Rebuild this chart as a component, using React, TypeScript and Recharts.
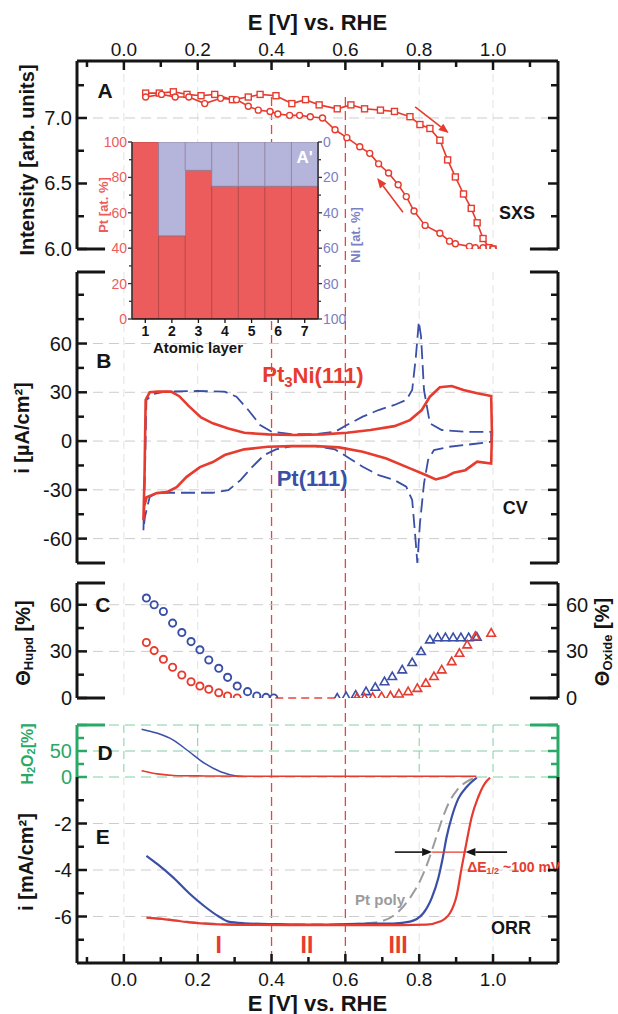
import React from 'react';
import {
  ComposedChart, BarChart, Bar, Line, Scatter, XAxis, YAxis, CartesianGrid,
  ReferenceLine, ReferenceDot,
} from 'recharts';

const FONT = '"Liberation Sans", Arial, Helvetica, sans-serif';
const INK = '#151515';
const RED = '#e63b2e';
const BLUE = '#3a4fa6';
const GRAY = '#9b9b9b';
const GREEN = '#2aa866';
const PINK = '#ec5c5c';
const LAVENDER = '#b5b5db';
const NI_BLUE = '#7b80c4';

const W = 618;

// potential axis shared by every panel
const E_DOMAIN: [number, number] = [-0.127, 1.176];
const eTicks = [-0.1, 0, 0.1, 0.2, 0.3, 0.4, 0.5, 0.6, 0.7, 0.8, 0.9, 1.0, 1.1];
const eLabels = [0, 0.2, 0.4, 0.6, 0.8, 1.0];
const regionBounds = [0.4, 0.6];
const gridE = eLabels.filter((e) => !regionBounds.includes(e));
const BRACKET = 0.076;

// A: SXS intensity, positive sweep (squares) and negative sweep (circles)
const sxsUp: [number, number][] = [
  [0.059, 7.19], [0.096, 7.19], [0.134, 7.2], [0.171, 7.18], [0.209, 7.17], [0.246, 7.18],
  [0.294, 7.14], [0.337, 7.16], [0.369, 7.18], [0.412, 7.17], [0.455, 7.11], [0.492, 7.14],
  [0.529, 7.1], [0.578, 7.07], [0.615, 7.1], [0.652, 7.07], [0.695, 7.06], [0.733, 7.05],
  [0.775, 7.01], [0.802, 6.95], [0.829, 6.92], [0.856, 6.83], [0.877, 6.68], [0.898, 6.55],
  [0.92, 6.42], [0.941, 6.31], [0.957, 6.2], [0.973, 6.08], [0.989, 6.01], [1.0, 6.0],
];
const sxsDown: [number, number][] = [
  [1.0, 6.0], [0.973, 6.01], [0.952, 6.01], [0.936, 6.02], [0.898, 6.04], [0.882, 6.06],
  [0.856, 6.12], [0.816, 6.18], [0.786, 6.29], [0.765, 6.4], [0.743, 6.49], [0.717, 6.58],
  [0.69, 6.65], [0.666, 6.73], [0.639, 6.78], [0.604, 6.85], [0.572, 6.91], [0.538, 7.0],
  [0.505, 7.01], [0.476, 7.02], [0.449, 7.02], [0.417, 7.03], [0.396, 7.05], [0.364, 7.06],
  [0.337, 7.09], [0.305, 7.14], [0.262, 7.15], [0.219, 7.11], [0.176, 7.16], [0.139, 7.16],
  [0.102, 7.18], [0.059, 7.16],
];

// B: cyclic voltammograms (closed loops)
const cvPt3Ni: [number, number][] = [
  [0.053, -48.7], [0.056, -20], [0.059, 25.3], [0.07, 30.0], [0.091, 30.4], [0.128, 30.4],
  [0.15, 27.6], [0.176, 21.5], [0.209, 14.5], [0.241, 10.9], [0.283, 7.8], [0.326, 5.1],
  [0.39, 4.1], [0.465, 3.7], [0.54, 4.1], [0.604, 5.1], [0.668, 6.8], [0.733, 9.2],
  [0.775, 12.9], [0.807, 19.1], [0.829, 27.3], [0.856, 33.1], [0.888, 33.9], [0.92, 31.4],
  [0.957, 29.4], [0.995, 27.7], [0.997, 5], [0.995, -13.8], [0.957, -12.7], [0.925, -17.9],
  [0.893, -19.5], [0.872, -22.0], [0.845, -23.6], [0.818, -20.9], [0.775, -16.8], [0.711, -10.7],
  [0.647, -6.6], [0.583, -3.9], [0.519, -3.1], [0.455, -3.1], [0.39, -3.5], [0.326, -5.1],
  [0.273, -8.6], [0.241, -12.9], [0.206, -16], [0.17, -22], [0.143, -28.3], [0.116, -31.4],
  [0.089, -32], [0.062, -34.5], [0.055, -40], [0.053, -48.7],
];
const cvPt111: [number, number][] = [
  [0.053, -54.8], [0.057, -20], [0.061, 25.3], [0.08, 28.9], [0.112, 30.4], [0.198, 30.8],
  [0.273, 30.4], [0.305, 27.3], [0.337, 19.1], [0.369, 9.9], [0.401, 5.7], [0.455, 4.3],
  [0.519, 4.3], [0.572, 5.7], [0.604, 9.9], [0.647, 15.0], [0.69, 19.1], [0.733, 22.2],
  [0.765, 25.3], [0.781, 31.4], [0.791, 51.9], [0.799, 73.5], [0.805, 64.3], [0.813, 31.4],
  [0.829, 10.9], [0.861, 6.8], [0.925, 5.7], [0.995, 5.7], [0.995, -0.4], [0.947, -1.8],
  [0.882, -3.5], [0.84, -5.5], [0.824, -11.7], [0.813, -26.1], [0.802, -50.7], [0.795, -75],
  [0.788, -54.8], [0.781, -36.3], [0.765, -28.1], [0.733, -24.0], [0.69, -20.9], [0.647, -15.8],
  [0.604, -9.6], [0.572, -5.1], [0.519, -3.1], [0.455, -3.1], [0.412, -5.1], [0.38, -8.6],
  [0.348, -15.8], [0.316, -24.0], [0.283, -30.2], [0.241, -31.8], [0.155, -31.8], [0.091, -31.8],
  [0.07, -34.3], [0.057, -46.6], [0.053, -54.8],
];

// C: coverages
const hupdPt111: [number, number][] = [
  [0.061, 64.3], [0.082, 60], [0.107, 55.7], [0.132, 48.2], [0.157, 42.1], [0.182, 36.3],
  [0.206, 31], [0.23, 24.5], [0.257, 19.1], [0.281, 13.3], [0.307, 7.7], [0.335, 4.1],
  [0.36, 1.3], [0.385, 0.4], [0.406, 0],
];
const hupdPt3Ni: [number, number][] = [
  [0.061, 35.7], [0.082, 30.5], [0.107, 24.9], [0.132, 19.8], [0.157, 14.8], [0.182, 10.5],
  [0.206, 7.7], [0.23, 5.6], [0.257, 3.4], [0.281, 1.3], [0.307, 0],
];
const oxidePt111: [number, number][] = [
  [0.578, 0], [0.602, 0.9], [0.628, 1.9], [0.656, 4.1], [0.681, 6.9], [0.706, 10.5],
  [0.727, 13.8], [0.754, 18.1], [0.781, 22.8], [0.805, 29.9], [0.829, 37.4], [0.85, 38.8],
  [0.871, 38.8], [0.892, 38.8], [0.913, 38.8], [0.934, 38.8], [0.956, 39.2],
];
const oxidePt3Ni: [number, number][] = [
  [0.631, 0], [0.652, 0], [0.674, 0.4], [0.698, 0.9], [0.722, 1.3], [0.745, 2.6],
  [0.77, 4.1], [0.795, 6.2], [0.818, 9.5], [0.84, 13.8], [0.861, 18.1], [0.888, 23.4],
  [0.909, 28.8], [0.93, 34.2], [0.952, 39.6], [0.995, 41.7],
];

// D: H2O2 yield
const h2o2Pt111: [number, number][] = [
  [0.048, 92], [0.091, 84], [0.134, 71], [0.176, 49], [0.219, 26], [0.262, 10],
  [0.305, 2], [0.348, 0], [0.95, 0],
];
const h2o2Pt3Ni: [number, number][] = [
  [0.048, 12], [0.091, 6], [0.134, 3], [0.22, 2], [0.4, 1.2], [0.7, 1.2], [0.955, 1.2],
];

// E: ORR polarisation curves
const orrPt3Ni: [number, number][] = [
  [0.061, -6.05], [0.112, -6.12], [0.176, -6.25], [0.241, -6.33], [0.305, -6.36], [0.45, -6.37],
  [0.6, -6.37], [0.75, -6.37], [0.82, -6.35], [0.856, -6.22], [0.883, -5.86], [0.902, -5.06],
  [0.915, -3.9], [0.929, -2.74], [0.942, -1.73], [0.96, -0.86], [0.978, -0.27], [0.992, -0.03],
];
const orrPt111: [number, number][] = [
  [0.061, -3.39], [0.091, -3.75], [0.134, -4.33], [0.176, -4.99], [0.219, -5.57], [0.257, -6.0],
  [0.283, -6.22], [0.326, -6.29], [0.412, -6.33], [0.519, -6.35], [0.604, -6.33], [0.668, -6.31],
  [0.73, -6.3], [0.775, -6.22], [0.811, -5.86], [0.834, -5.2], [0.852, -4.33], [0.864, -3.46],
  [0.874, -2.6], [0.888, -1.73], [0.906, -0.93], [0.929, -0.42], [0.956, -0.03],
];
const orrPtPoly: [number, number][] = [
  [0.07, -6.05], [0.12, -6.13], [0.2, -6.27], [0.3, -6.33], [0.45, -6.35], [0.6, -6.33],
  [0.65, -6.3], [0.694, -6.22], [0.739, -5.86], [0.775, -5.2], [0.802, -4.48], [0.825, -3.6],
  [0.843, -2.74], [0.861, -1.88], [0.879, -1.15], [0.902, -0.57], [0.929, -0.2], [0.951, -0.03],
];

// inset A': composition per atomic layer
const layers = [1, 2, 3, 4, 5, 6, 7];
const ptPercent = [100, 47, 84, 75, 75, 75, 75];
const niPercent = [0, 53, 16, 25, 25, 25, 25];

const pts = (rows: [number, number][]) => rows.map(([e, v]) => ({ e, v }));
const near = (list: number[] | undefined, v: number) => !!list && list.some((m) => Math.abs(m - v) < 1e-6);

type TickCfg = {
  side: 'left' | 'right' | 'top' | 'bottom';
  labels?: number[];
  majors?: number[];
  color?: string;
  labelColor?: string;
  fontSize?: number;
  digits?: number;
  major?: number;
  minor?: number;
  out?: boolean;
  width?: number;
  gap?: number;
};

function frameTick(c: TickCfg) {
  return (p: any) => {
    const v = p.payload.value;
    const big = c.majors ? near(c.majors, v) : true;
    const len = big ? c.major ?? 10 : c.minor ?? 7;
    const { x, y } = p;
    const color = c.color ?? INK;
    const txt = near(c.labels, v) ? (c.digits !== undefined ? v.toFixed(c.digits) : String(v)) : null;
    const gap = (c.gap ?? 5) + (c.out ? len : 0);
    const dir = c.out ? -1 : 1;
    const t = { fill: c.labelColor ?? color, fontSize: c.fontSize ?? 20, fontFamily: FONT };
    let line: React.ReactNode = null;
    let label: React.ReactNode = null;
    if (c.side === 'left') {
      line = <line x1={x} y1={y} x2={x + dir * len} y2={y} />;
      if (txt) label = <text x={x - gap} y={y} textAnchor="end" dominantBaseline="central" {...t}>{txt}</text>;
    } else if (c.side === 'right') {
      line = <line x1={x} y1={y} x2={x - dir * len} y2={y} />;
      if (txt) label = <text x={x + gap} y={y} textAnchor="start" dominantBaseline="central" {...t}>{txt}</text>;
    } else if (c.side === 'top') {
      line = <line x1={x} y1={y} x2={x} y2={y + dir * len} />;
      if (txt) label = <text x={x} y={y - gap} textAnchor="middle" dominantBaseline="central" {...t}>{txt}</text>;
    } else {
      line = <line x1={x} y1={y} x2={x} y2={y - dir * len} />;
      if (txt) label = <text x={x} y={y + gap} textAnchor="middle" dominantBaseline="central" {...t}>{txt}</text>;
    }
    return (
      <g>
        <g stroke={color} strokeWidth={c.width ?? 2.5}>{line}</g>
        {label}
      </g>
    );
  };
}

const vTitle = (x: number, y: number, body: React.ReactNode, color = INK, size = 20) => () => (
  <text transform={`translate(${x},${y}) rotate(-90)`} textAnchor="middle" dominantBaseline="central"
    fill={color} fontSize={size} fontWeight="bold" fontFamily={FONT}>{body}</text>
);

type NoteOpts = { color?: string; size?: number; weight?: string | number; anchor?: string; yAxisId?: any };
const note = (key: string, x: number, y: number, body: React.ReactNode, o: NoteOpts = {}) => (
  <ReferenceDot key={key} x={x} y={y} r={1} fill="none" stroke="none" yAxisId={o.yAxisId ?? 0} ifOverflow="visible"
    label={(p: any) => {
      const vb = p.viewBox;
      return (
        <text x={vb.x + vb.width / 2} y={vb.y + vb.height / 2} textAnchor={o.anchor ?? 'middle'} dominantBaseline="central"
          fill={o.color ?? INK} fontSize={o.size ?? 18} fontWeight={o.weight ?? 'bold'} fontFamily={FONT}>{body}</text>
      );
    }} />
);

const arrowShape = (color: string) => (p: any) => {
  const { x1, y1, x2, y2 } = p;
  const a = Math.atan2(y2 - y1, x2 - x1);
  const L = 10, H = 4;
  const bx = x2 - L * Math.cos(a), by = y2 - L * Math.sin(a);
  const head = `${x2},${y2} ${bx - H * Math.sin(a)},${by + H * Math.cos(a)} ${bx + H * Math.sin(a)},${by - H * Math.cos(a)}`;
  return (
    <g>
      <line x1={x1} y1={y1} x2={bx} y2={by} stroke={color} strokeWidth={1.6} />
      <polygon points={head} fill={color} />
    </g>
  );
};

const dashedShape = (color: string, width = 1.3, dash = '9 5') => (p: any) => (
  <line x1={p.x1} y1={p.y1} x2={p.x2} y2={p.y2} stroke={color} strokeWidth={width} strokeDasharray={dash} />
);

const brackets = (y: number, color = INK) => [
  <ReferenceLine key={`bl${y}`} segment={[{ x: E_DOMAIN[0], y }, { x: E_DOMAIN[0] + BRACKET, y }]} stroke={color} strokeWidth={3} ifOverflow="visible" />,
  <ReferenceLine key={`br${y}`} segment={[{ x: E_DOMAIN[1] - BRACKET, y }, { x: E_DOMAIN[1], y }]} stroke={color} strokeWidth={3} ifOverflow="visible" />,
];

const frameLine = { stroke: INK, strokeWidth: 3 };
const noMargin = { top: 0, right: 0, bottom: 0, left: 0 };

const hiddenX = <XAxis type="number" dataKey="e" domain={E_DOMAIN} allowDataOverflow hide />;

function yAxes(domain: [number, number], ticks: number[], majors: number[], labels: number[], opts: {
  color?: string; rightLabels?: boolean; title?: any; rightTitle?: any; digits?: number;
} = {}) {
  const color = opts.color ?? INK;
  return [
    <YAxis key="yl" yAxisId={0} type="number" dataKey="v" domain={domain} allowDataOverflow width={77} ticks={ticks}
      interval={0} tickLine={false} tickSize={0} tickMargin={0} axisLine={{ stroke: color, strokeWidth: 3 }}
      tick={frameTick({ side: 'left', labels, majors, color, digits: opts.digits })} label={opts.title} />,
    <YAxis key="yr" yAxisId="r" orientation="right" type="number" domain={domain} allowDataOverflow width={60} ticks={ticks}
      interval={0} tickLine={false} tickSize={0} tickMargin={0} axisLine={{ stroke: color, strokeWidth: 3 }}
      tick={frameTick({ side: 'right', labels: opts.rightLabels ? labels : [], majors, color, gap: 8 })} label={opts.rightTitle} />,
  ];
}

const vGrid = (color = '#e2e2e2') => (
  <CartesianGrid horizontal={false} verticalValues={gridE} stroke={color} strokeDasharray="8 5" />
);
const hGrid = (values: number[], color = '#cdcdcd') => (
  <CartesianGrid vertical={false} horizontalValues={values} stroke={color} strokeDasharray="10 6" />
);

function Box({ top, left = 0, w = W, h, children }: { top: number; left?: number; w?: number; h: number; children: React.ReactNode }) {
  return <div style={{ position: 'absolute', left, top, width: w, height: h }}>{children}</div>;
}

const square = (color: string) => (p: any) => (
  <rect key={`s${p.index}`} x={p.cx - 3} y={p.cy - 3} width={6} height={6} fill="#fff" stroke={color} strokeWidth={1.4} />
);
const ring = (color: string, r = 3) => (p: any) => (
  <circle key={`c${p.index}`} cx={p.cx} cy={p.cy} r={r} fill="#fff" stroke={color} strokeWidth={1.4} />
);
const openCircle = (color: string) => (p: any) => (
  <circle cx={p.cx} cy={p.cy} r={3.6} fill="none" stroke={color} strokeWidth={1.9} />
);
const openTriangle = (color: string) => (p: any) => (
  <polygon points={`${p.cx},${p.cy - 4.5} ${p.cx - 4.3},${p.cy + 3} ${p.cx + 4.3},${p.cy + 3}`} fill="none" stroke={color} strokeWidth={1.6} />
);

export default function App() {
  const insetData = layers.map((layer, i) => ({ layer, pt: ptPercent[i], ni: niPercent[i] }));
  const sub = (s: string, size = 13, dy = 5) => <tspan dy={dy} fontSize={size}>{s}</tspan>;

  return (
    <div style={{ position: 'absolute', left: 0, top: 0, width: W, height: 1014, background: '#fff', fontFamily: FONT }}>
      <style>{'.recharts-surface{overflow:visible}'}</style>

      {/* dashed region boundaries running through all panels */}
      <Box top={0} h={1014}>
        <ComposedChart width={W} height={1014} data={regionBounds.map((e) => ({ e, v: 0 }))} margin={{ top: 61, right: 60, bottom: 51, left: 77 }}>
          <XAxis type="number" dataKey="e" domain={E_DOMAIN} allowDataOverflow hide />
          <YAxis type="number" domain={[0, 1]} allowDataOverflow hide />
          {regionBounds.map((e) => (
            <ReferenceLine key={e} segment={[{ x: e, y: 0.96 }, { x: e, y: 0 }]} shape={dashedShape('#e8453c')} />
          ))}
        </ComposedChart>
      </Box>

      {/* A: SXS */}
      <Box top={0} h={249}>
        <ComposedChart width={W} height={249} margin={noMargin}>
          {vGrid()}
          {hGrid([7.0])}
          <XAxis type="number" dataKey="e" orientation="top" domain={E_DOMAIN} allowDataOverflow height={61} ticks={eTicks}
            interval={0} tickLine={false} tickSize={0} tickMargin={0} axisLine={frameLine}
            tick={frameTick({ side: 'top', labels: eLabels, majors: eLabels, digits: 1, fontSize: 19, major: 9, minor: 6, gap: 12 })}
            label={{ value: 'E [V] vs. RHE', position: 'insideTop', offset: 14, fontSize: 22, fontWeight: 'bold', fill: INK, fontFamily: FONT }} />
          {yAxes([6.0, 7.435], [6.0, 6.25, 6.5, 6.75, 7.0, 7.25], [6.0, 6.5, 7.0], [6.0, 6.5, 7.0], {
            digits: 1, title: vTitle(27, 160, 'Intensity [arb. units]'),
          })}
          {brackets(6.0)}
          <Line data={pts(sxsUp)} dataKey="v" stroke={RED} strokeWidth={1.6} dot={square(RED)} isAnimationActive={false} />
          <Line data={pts(sxsDown)} dataKey="v" stroke={RED} strokeWidth={1.6} dot={ring(RED)} isAnimationActive={false} />
          <ReferenceLine segment={[{ x: 0.789, y: 7.084 }, { x: 0.88, y: 6.885 }]} shape={arrowShape(RED)} ifOverflow="visible" />
          <ReferenceLine segment={[{ x: 0.756, y: 6.28 }, { x: 0.686, y: 6.542 }]} shape={arrowShape(RED)} ifOverflow="visible" />
          {note('A', -0.051, 7.21, 'A', { size: 21 })}
          {note('sxs', 1.065, 6.275, 'SXS', { size: 18 })}
        </ComposedChart>
      </Box>

      {/* B: CV */}
      <Box top={272} h={291}>
        <ComposedChart width={W} height={291} margin={noMargin}>
          {vGrid()}
          {hGrid([-60, -30, 0, 30, 60])}
          {hiddenX}
          {yAxes([-75, 104], [-60, -45, -30, -15, 0, 15, 30, 45, 60, 75, 90], [-60, -30, 0, 30, 60], [-60, -30, 0, 30, 60], {
            title: vTitle(22, 156, 'i [µA/cm²]'),
          })}
          {brackets(104)}
          {brackets(-75)}
          <Line data={pts(cvPt111)} dataKey="v" type="linear" stroke={BLUE} strokeWidth={1.8} strokeDasharray="14 6" dot={false} isAnimationActive={false} />
          <Line data={pts(cvPt3Ni)} dataKey="v" type="linear" stroke={RED} strokeWidth={2.6} dot={false} isAnimationActive={false} />
          {note('B', -0.054, 49.3, 'B', { size: 21 })}
          {note('pt3ni', 0.512, 40.7, <>{'Pt'}{sub('3', 15, 6)}<tspan dy={-6}>Ni(111)</tspan></>, { color: RED, size: 22 })}
          {note('pt111', 0.51, -22.8, 'Pt(111)', { color: BLUE, size: 22 })}
          {note('cv', 1.06, -41.3, 'CV', { size: 18 })}
        </ComposedChart>
      </Box>

      {/* C: coverages */}
      <Box top={583} h={115}>
        <ComposedChart width={W} height={115} margin={noMargin}>
          {vGrid()}
          {hGrid([30, 60])}
          {hiddenX}
          {yAxes([0, 74], [0, 15, 30, 45, 60], [0, 30, 60], [0, 30, 60], {
            rightLabels: true,
            title: vTitle(23, 60, <><tspan>Θ</tspan>{sub('Hupd', 13, 5)}<tspan dy={-5}> [%]</tspan></>),
            rightTitle: vTitle(602, 59, <><tspan>Θ</tspan>{sub('Oxide', 13, 5)}<tspan dy={-5}> [%]</tspan></>),
          })}
          {brackets(74)}
          {brackets(0)}
          <ReferenceLine segment={[{ x: 0.41, y: 0 }, { x: 0.58, y: 0 }]} shape={dashedShape('#e8453c', 1.3, '8 5')} />
          <Scatter data={pts(hupdPt111)} shape={openCircle(BLUE)} isAnimationActive={false} />
          <Scatter data={pts(hupdPt3Ni)} shape={openCircle(RED)} isAnimationActive={false} />
          <Scatter data={pts(oxidePt111)} shape={openTriangle(BLUE)} isAnimationActive={false} />
          <Scatter data={pts(oxidePt3Ni)} shape={openTriangle(RED)} isAnimationActive={false} />
          {note('C', -0.057, 60, 'C', { size: 21 })}
        </ComposedChart>
      </Box>

      {/* D: H2O2 */}
      <Box top={725} h={52}>
        <ComposedChart width={W} height={52} margin={noMargin}>
          {vGrid('#7fcfa2')}
          {hGrid([0, 50, 100], '#7fcfa2')}
          {hiddenX}
          {yAxes([0, 100], [0, 25, 50, 75, 100], [0, 50, 100], [0, 50], {
            color: GREEN,
            title: vTitle(27, 29, <><tspan>H</tspan>{sub('2', 11, 4)}<tspan dy={-4}>O</tspan>{sub('2', 11, 4)}<tspan dy={-4}>[%]</tspan></>, GREEN, 16),
          })}
          {brackets(100, GREEN)}
          <Line data={pts(h2o2Pt111)} dataKey="v" type="monotone" stroke={BLUE} strokeWidth={1.5} dot={false} isAnimationActive={false} />
          <Line data={pts(h2o2Pt3Ni)} dataKey="v" type="monotone" stroke={RED} strokeWidth={1.6} dot={false} isAnimationActive={false} />
          {note('D', -0.051, 48, 'D', { size: 21 })}
        </ComposedChart>
      </Box>

      {/* E: ORR */}
      <Box top={777} h={237}>
        <ComposedChart width={W} height={237} margin={noMargin}>
          {vGrid()}
          {hGrid([-2, -4, -6])}
          <XAxis type="number" dataKey="e" domain={E_DOMAIN} allowDataOverflow height={51} ticks={eTicks}
            interval={0} tickLine={false} tickSize={0} tickMargin={0} axisLine={frameLine}
            tick={frameTick({ side: 'bottom', labels: eLabels, majors: eLabels, digits: 1, fontSize: 19, major: 9, minor: 6, gap: 16 })}
            label={{ value: 'E [V] vs. RHE', position: 'insideBottom', offset: 3, fontSize: 22, fontWeight: 'bold', fill: INK, fontFamily: FONT }} />
          {yAxes([-8, 0], [-7, -6, -5, -4, -3, -2, -1], [-6, -4, -2], [-6, -4, -2], {
            title: vTitle(26, 85, 'i [mA/cm²]'),
          })}
          <Line data={pts(orrPtPoly)} dataKey="v" type="monotone" stroke={GRAY} strokeWidth={2} strokeDasharray="12 6" dot={false} isAnimationActive={false} />
          <Line data={pts(orrPt111)} dataKey="v" type="monotone" stroke={BLUE} strokeWidth={2.2} dot={false} isAnimationActive={false} />
          <Line data={pts(orrPt3Ni)} dataKey="v" type="monotone" stroke={RED} strokeWidth={2.2} dot={false} isAnimationActive={false} />
          <ReferenceLine segment={[{ x: 0.835, y: -3.23 }, { x: 0.925, y: -3.23 }]} stroke={RED} strokeWidth={1.4} />
          <ReferenceLine segment={[{ x: 0.734, y: -3.23 }, { x: 0.835, y: -3.23 }]} shape={arrowShape(INK)} />
          <ReferenceLine segment={[{ x: 1.038, y: -3.23 }, { x: 0.925, y: -3.23 }]} shape={arrowShape(INK)} />
          {note('E', -0.057, -2.58, 'E', { size: 21 })}
          {note('poly', 0.694, -5.29, 'Pt poly', { color: GRAY, size: 15 })}
          {note('dE', 0.93, -3.87, <><tspan>ΔE</tspan>{sub('1/2', 9, 4)}<tspan dy={-4}> ~100 mV</tspan></>, { color: RED, size: 14, anchor: 'start' })}
          {note('orr', 1.049, -6.49, 'ORR', { size: 18 })}
          {note('r1', 0.257, -7.23, 'I', { color: RED, size: 23 })}
          {note('r2', 0.496, -7.23, 'II', { color: RED, size: 23 })}
          {note('r3', 0.743, -7.23, 'III', { color: RED, size: 23 })}
        </ComposedChart>
      </Box>

      {/* inset A': layer composition */}
      <Box top={132} left={80} w={300} h={230}>
        <BarChart width={300} height={230} data={insetData} margin={{ top: 10, right: 0, bottom: 0, left: 0 }} barCategoryGap={0}>
          <XAxis dataKey="layer" height={43} interval={0} axisLine={{ stroke: INK, strokeWidth: 1.5 }} tickLine={{ stroke: INK, strokeWidth: 1.3 }}
            tickSize={4} tickMargin={3} tick={{ fill: INK, fontSize: 14, fontWeight: 'bold', fontFamily: FONT }}
            label={(p: any) => (
              <text x={p.viewBox.x + 21} y={p.viewBox.y + 28} dominantBaseline="central" fontSize={15} fontWeight="bold" fill={INK} fontFamily={FONT}>Atomic layer</text>
            )} />
          <YAxis yAxisId={0} type="number" domain={[0, 100]} allowDataOverflow width={52} ticks={[0, 10, 20, 30, 40, 50, 60, 70, 80, 90, 100]}
            interval={0} tickLine={false} tickSize={0} tickMargin={0} axisLine={{ stroke: '#333', strokeWidth: 1.5 }}
            tick={frameTick({ side: 'left', out: true, labels: [0, 20, 40, 60, 80, 100], majors: [0, 20, 40, 60, 80, 100], color: '#333', labelColor: PINK, fontSize: 14, major: 4, minor: 3, width: 1.3, gap: 1 })}
            label={vTitle(23, 73, 'Pt [at. %]', PINK, 13)} />
          <YAxis yAxisId="ni" orientation="right" reversed type="number" domain={[0, 100]} allowDataOverflow width={62}
            ticks={[0, 10, 20, 30, 40, 50, 60, 70, 80, 90, 100]} interval={0} tickLine={false} tickSize={0} tickMargin={0}
            axisLine={{ stroke: '#333', strokeWidth: 1.5 }}
            tick={frameTick({ side: 'right', out: true, labels: [0, 20, 40, 60, 80, 100], majors: [0, 20, 40, 60, 80, 100], color: '#333', labelColor: NI_BLUE, fontSize: 14, major: 4, minor: 3, width: 1.3, gap: 1 })}
            label={vTitle(275, 103, 'Ni [at. %]', NI_BLUE, 13)} />
          <Bar dataKey="pt" stackId="c" fill={PINK} stroke="#b04545" strokeWidth={0.8} isAnimationActive={false} />
          <Bar dataKey="ni" stackId="c" fill={LAVENDER} stroke="#8f7d98" strokeWidth={0.8} isAnimationActive={false} />
          {note('ap', 7, 91, "A'", { color: '#fff', size: 17 })}
        </BarChart>
      </Box>
    </div>
  );
}
